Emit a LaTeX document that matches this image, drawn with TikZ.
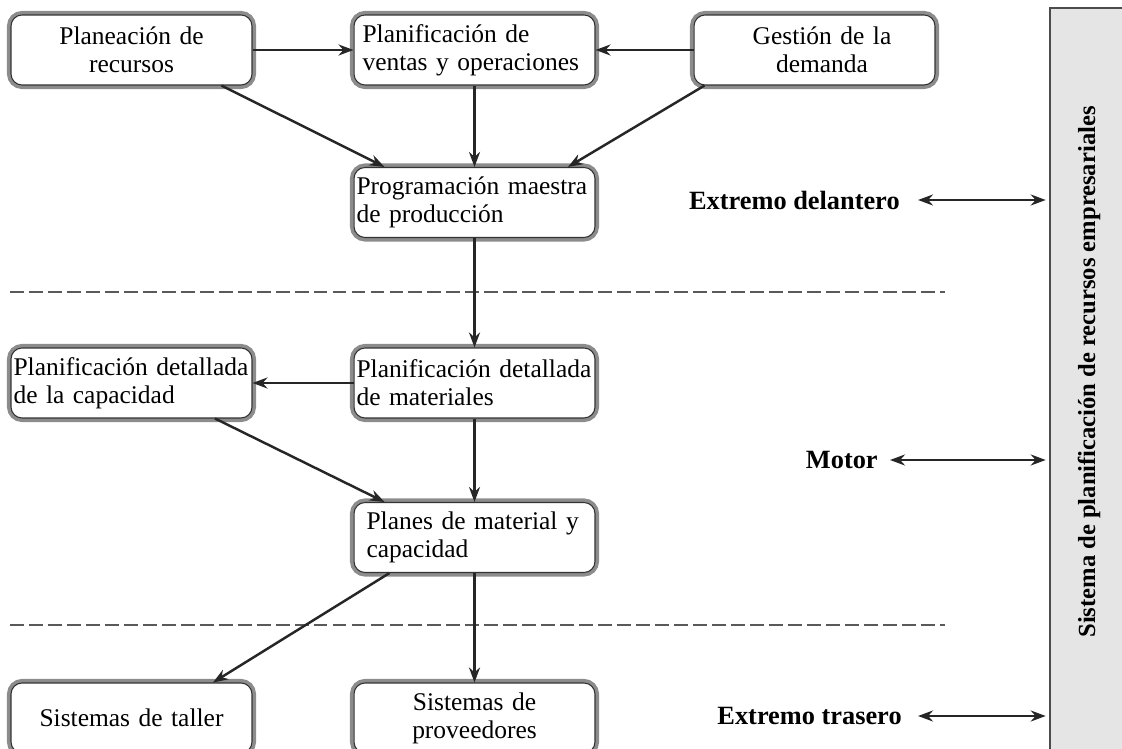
\documentclass[tikz,border=0pt]{standalone}
\usepackage{fontspec}
\setmainfont{Liberation Serif}
\usetikzlibrary{arrows.meta,positioning}
\tikzset{
  box/.style={rectangle, rounded corners=0.22cm, draw=black!80, line width=0.6pt,
    fill=white, preaction={draw=gray!90, line width=4.6pt},
    text width=4.72cm, inner xsep=0.05cm, inner ysep=0pt, minimum height=1.4cm,
    font=\fontsize{14.5}{16}\selectfont},
  boxc/.style={box, align=center},
  boxl/.style={box, align=left},
  tag/.style={font=\fontsize{15}{17}\selectfont\bfseries, inner sep=0pt, anchor=east},
  link/.style={draw=black!85, line width=1.4pt, -{Stealth[length=0.3cm,width=0.22cm]}},
  both/.style={link, {Stealth[length=0.3cm,width=0.22cm]}-{Stealth[length=0.3cm,width=0.22cm]}, shorten >=2pt},
  cut/.style={draw=gray!70!black, line width=1.1pt, dash pattern=on 7.9pt off 2.9pt},
  panel/.style={draw=black!70, line width=0.9pt, fill=gray!20, inner sep=0pt},
}
\begin{document}
\begin{tikzpicture}[x=0.02cm,y=-0.02cm]
  \useasboundingbox (0,0) rectangle (1122,749);
  \clip (0,0) rectangle (1122,749);
  % side panel
  \node[panel, minimum width=1.7cm, minimum height=15.2cm] (erp) at (1092.5,388) {};
  \node[rotate=90, font=\fontsize{14}{16}\selectfont\bfseries] (erpname) at (1089,372)
    {Sistema de planificación de recursos empresariales};
  % boxes
  \node[boxc] (rec) at (131.5,50) {Planeación de\\recursos};
  \node[boxl] (ven) at (474.5,50) {\hspace*{0.12cm}Planificación de\\\hspace*{0.12cm}ventas y operaciones};
  \node[boxc] (dem) at (814.5,50) {\hspace*{0.3cm}Gestión de la\\\hspace*{0.3cm}demanda};
  \node[boxl] (pmp) at (474.5,202.5) {Programación maestra\\de producción};
  \node[boxl] (cap) at (131.5,383) {Planificación detallada\\de la capacidad};
  \node[boxl] (mat) at (474.5,383) {Planificación detallada\\de materiales};
  \node[boxl] (pla) at (474.5,537.5) {\hspace*{0.2cm}Planes de material y\\\hspace*{0.2cm}capacidad};
  \node[boxc] (tal) at (131.5,718) {Sistemas de taller};
  \node[boxc] (pro) at (474.5,718) {Sistemas de\\proveedores};
  % separators
  \coordinate (c1a) at (10,292);
  \coordinate (c1b) at (945,292);
  \coordinate (c2a) at (10,625);
  \coordinate (c2b) at (945,625);
  \draw[cut] (c1a) -- (c1b);
  \draw[cut] (c2a) -- (c2b);
  % levels
  \node[tag] (fe) at (900,200) {Extremo delantero};
  \node[tag] (mo) at (878,460) {Motor};
  \node[tag] (be) at (902,716) {Extremo trasero};
  \draw[both] ([xshift=0.36cm]fe.east) -- (fe.east -| erp.west);
  \draw[both] ([xshift=0.24cm]mo.east) -- (mo.east -| erp.west);
  \draw[both] ([xshift=0.32cm]be.east) -- (be.east -| erp.west);
  % flows
  \draw[link] (rec.east) -- (ven.west);
  \draw[link] (dem.west) -- (ven.east);
  \draw[link] ([xshift=1.8cm]rec.south) -- ([xshift=-1.8cm]pmp.north);
  \draw[link] (ven.south) -- (pmp.north);
  \draw[link] ([xshift=-2.2cm]dem.south) -- ([xshift=1.87cm]pmp.north);
  \draw[link] (pmp.south) -- (mat.north);
  \draw[link] (mat.west) -- (cap.east);
  \draw[link] ([xshift=1.67cm]cap.south) -- ([xshift=-1.8cm]pla.north);
  \draw[link] (mat.south) -- (pla.north);
  \draw[link] ([xshift=-1.7cm]pla.south) -- ([xshift=1.63cm]tal.north);
  \draw[link] (pla.south) -- (pro.north);
\end{tikzpicture}
\end{document}
